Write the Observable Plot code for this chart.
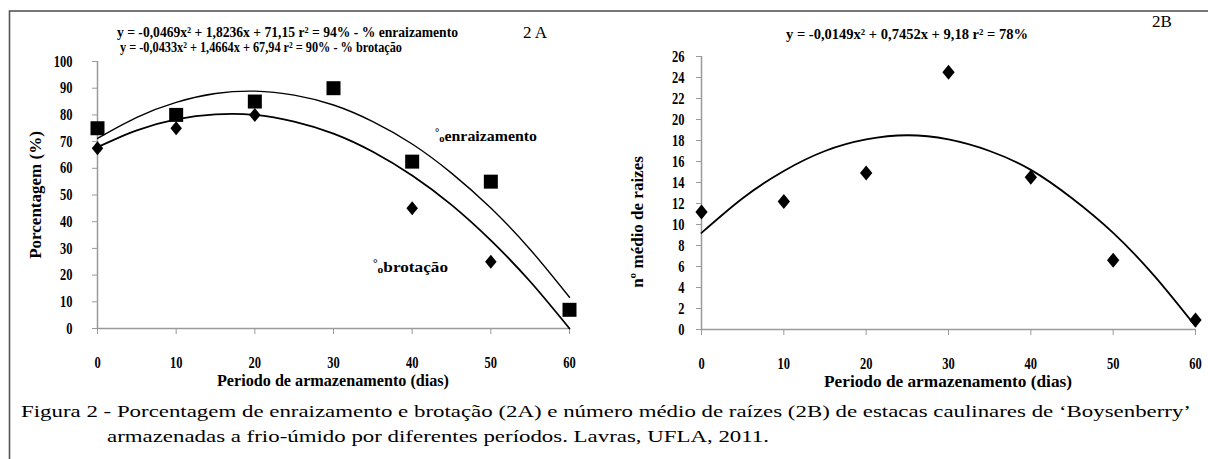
<!DOCTYPE html>
<html>
<head>
<meta charset="utf-8">
<script src="https://cdn.jsdelivr.net/npm/d3@7"></script>
<script src="https://cdn.jsdelivr.net/npm/@observablehq/plot@0.6"></script>
<style>
  html, body { margin: 0; padding: 0; background: #fff; }
  #fig { position: relative; width: 1208px; height: 459px; overflow: hidden; font-family: "Liberation Serif"; }
  #fig > svg { position: absolute; }
  #fig text { font-family: "Liberation Serif"; }
</style>
</head>
<body>
<div id="fig"></div>
<script>
// ---------- data ----------
const days = [0, 10, 20, 30, 40, 50, 60];
const enraizamento = [75, 80, 85, 90, 62.5, 55, 7];          // % enraizamento (squares)
const brotDays = [0, 10, 20, 40, 50];
const brotacao = [67.5, 75, 80, 45, 25];                     // % brotação (diamonds)
const curveDays = [0, 5, 10, 15, 20, 25, 30, 35, 40, 45, 50, 55, 60];
const enraizFit = [71.2, 79.1, 84.7, 88.0, 88.9, 87.4, 83.7, 77.5, 69.1, 58.2, 45.1, 29.6, 11.7];
const brotFit = [67.9, 74.2, 78.3, 80.2, 80.0, 77.5, 73.0, 66.2, 57.3, 46.3, 33.0, 17.6, 0.0];
const raizes = [11.2, 12.2, 14.9, 24.5, 14.5, 6.6, 0.9];       // nº médio de raízes
const raizesFit = [9.2, 12.5, 15.1, 17.0, 18.1, 18.5, 18.1, 17.0, 15.2, 12.5, 9.2, 5.1, 0.3];
const xTicks = [0, 10, 20, 30, 40, 50, 60];
const yTicksA = [0, 10, 20, 30, 40, 50, 60, 70, 80, 90, 100];
const yTicksB = [0, 2, 4, 6, 8, 10, 12, 14, 16, 18, 20, 22, 24, 26];

// ---------- symbols ----------
const squareSym = { draw(ctx, size) { const s = Math.sqrt(size / Math.PI); ctx.rect(-s, -s, 2 * s, 2 * s); } };
const diamondSym = { draw(ctx, size) { const s = Math.sqrt(size / Math.PI), w = s * 0.82;
  ctx.moveTo(0, -s); ctx.lineTo(w, 0); ctx.lineTo(0, s); ctx.lineTo(-w, 0); ctx.closePath(); } };

const pts = (xs, ys) => xs.map((x, i) => ({x, y: ys[i]}));
const AX = "#9a9a9a";
const FONT = "Liberation Serif";
const baseStyle = {fontFamily: FONT, fontSize: "15px", color: "#000", background: "transparent", overflow: "visible"};

// ---------- panel 2A ----------
const plotA = Plot.plot({
  width: 600, height: 400,
  marginLeft: 97, marginRight: 31, marginTop: 61, marginBottom: 72,
  style: baseStyle,
  x: {domain: [0, 60]},
  y: {domain: [0, 100]},
  marks: [
    Plot.ruleX([0], {y1: 0, y2: 100, stroke: AX, strokeWidth: 1.5}),
    Plot.ruleY([0], {x1: 0, x2: 60, stroke: AX, strokeWidth: 1.5}),
    Plot.axisY(yTicksA, {tickSize: 5, tickPadding: 20, stroke: AX, fill: "#000", label: null, fontSize: 16, fontWeight: "bold"}),
    Plot.axisX(xTicks, {tickSize: 6, tickPadding: 22, stroke: AX, fill: "#000", label: null, fontSize: 16, fontWeight: "bold"}),
    Plot.line(pts(curveDays, enraizFit), {x: "x", y: "y", curve: "natural", stroke: "#000", strokeWidth: 1.4}),
    Plot.line(pts(curveDays, brotFit), {x: "x", y: "y", curve: "natural", stroke: "#000", strokeWidth: 1.8}),
    Plot.dot(pts(brotDays, brotacao), {x: "x", y: "y", symbol: diamondSym, r: 7, fill: "#000", stroke: "none"}),
    Plot.dot(pts(days, enraizamento), {x: "x", y: "y", symbol: squareSym, r: 7, fill: "#000", stroke: "none"})
  ]
});
plotA.style.left = "0px"; plotA.style.top = "0px";

// ---------- panel 2B ----------
const plotB = Plot.plot({
  width: 608, height: 400,
  marginLeft: 101, marginRight: 13, marginTop: 56, marginBottom: 71,
  style: baseStyle,
  x: {domain: [0, 60]},
  y: {domain: [0, 26]},
  marks: [
    Plot.ruleX([0], {y1: 0, y2: 26, stroke: AX, strokeWidth: 1.5}),
    Plot.ruleY([0], {x1: 0, x2: 60, stroke: AX, strokeWidth: 1.5}),
    Plot.axisY(yTicksB, {tickSize: 5, tickPadding: 12, stroke: AX, fill: "#000", label: null, fontSize: 16, fontWeight: "bold"}),
    Plot.axisX(xTicks, {tickSize: 6, tickPadding: 22, stroke: AX, fill: "#000", label: null, fontSize: 16, fontWeight: "bold"}),
    Plot.line(pts(curveDays, raizesFit), {x: "x", y: "y", curve: "natural", stroke: "#000", strokeWidth: 1.8}),
    Plot.dot(pts(days, raizes), {x: "x", y: "y", symbol: diamondSym, r: 7.5, fill: "#000", stroke: "none"})
  ]
});
plotB.style.left = "600px"; plotB.style.top = "0px";

const fig = document.getElementById("fig");
fig.appendChild(plotA);
fig.appendChild(plotB);

// condensed tick labels, as in the original (narrow Times digits)
function condense(svg, f) {
  svg.querySelectorAll('g[aria-label$="tick label"] text').forEach(t => {
    const L = t.getComputedTextLength();
    if (L > 0) { t.setAttribute("textLength", L * f); t.setAttribute("lengthAdjust", "spacingAndGlyphs"); }
  });
}
condense(plotA, 0.78);
condense(plotB, 0.78);

// ---------- overlay: frame, titles, equations, caption ----------
const ov = d3.create("svg").attr("width", 1208).attr("height", 459)
  .style("left", "0px").style("top", "0px").style("font-family", FONT);
fig.appendChild(ov.node());
ov.append("rect").attr("x", 9.5).attr("y", 11).attr("width", 1300).attr("height", 600)
  .attr("fill", "none").attr("stroke", "#555").attr("stroke-width", 1.6);

function txt(x, y, s, o = {}) {
  const t = ov.append("text").attr("x", x).attr("y", y)
    .attr("font-family", FONT)
    .attr("font-size", o.size || 14).attr("fill", "#000")
    .attr("font-weight", o.weight || "normal")
    .attr("text-anchor", o.anchor || "start")
    .attr("dominant-baseline", "middle");
  if (s !== null) t.text(s);
  if (o.len) t.attr("textLength", o.len).attr("lengthAdjust", o.adj || "spacingAndGlyphs");
  if (o.rot) t.attr("transform", `rotate(-90,${x},${y})`);
  return t;
}
// equations
txt(117, 34, "y = -0,0469x² + 1,8236x + 71,15  r² = 94% - % enraizamento", {size: 14, weight: "bold", len: 341});
txt(120, 49, "y = -0,0433x² + 1,4664x + 67,94  r² = 90% - % brotação", {size: 14, weight: "bold", len: 282});
txt(786, 36, "y = -0,0149x² + 0,7452x + 9,18  r² = 78%", {size: 14, weight: "bold", len: 242});
txt(523, 34, "2 A", {size: 17});
txt(1152, 23, "2B", {size: 17});
// in-plot series labels (% rendered as in the original)
function pctLabel(x, y, word, len) {
  const t = txt(x, y, null, {size: 15, weight: "bold"});
  t.append("tspan").attr("font-size", 10).attr("dy", -4).text("°");
  t.append("tspan").attr("font-size", 10).attr("dy", 6).text("o");
  t.append("tspan").attr("dy", -2).text(word);
  t.attr("textLength", len).attr("lengthAdjust", "spacingAndGlyphs");
}
pctLabel(435, 138, "enraizamento", 102);
pctLabel(373, 269, "brotação", 75);
// axis titles
txt(37, 195, "Porcentagem (%)", {size: 17, weight: "bold", anchor: "middle", rot: true});
txt(639, 222, "nº médio de raizes", {size: 17, weight: "bold", anchor: "middle", rot: true});
txt(333, 382, "Periodo de armazenamento (dias)", {size: 16, weight: "bold", anchor: "middle", len: 232});
txt(948, 383, "Periodo de armazenamento (dias)", {size: 16, weight: "bold", anchor: "middle", len: 248});
// caption: line 1 stretched to the frame width, line 2 with the same horizontal scale
const cap1 = txt(21, 413, "Figura 2 - Porcentagem de enraizamento e brotação (2A) e número médio de raízes (2B) de estacas caulinares de ‘Boysenberry’", {size: 17});
const cap2 = txt(107, 438, "armazenadas a frio-úmido por diferentes períodos. Lavras, UFLA, 2011.", {size: 17});
const n1 = cap1.node().getComputedTextLength(), n2 = cap2.node().getComputedTextLength();
const k = 1170 / n1;
cap1.attr("textLength", 1170).attr("lengthAdjust", "spacingAndGlyphs");
cap2.attr("textLength", n2 * k).attr("lengthAdjust", "spacingAndGlyphs");
</script>
</body>
</html>
